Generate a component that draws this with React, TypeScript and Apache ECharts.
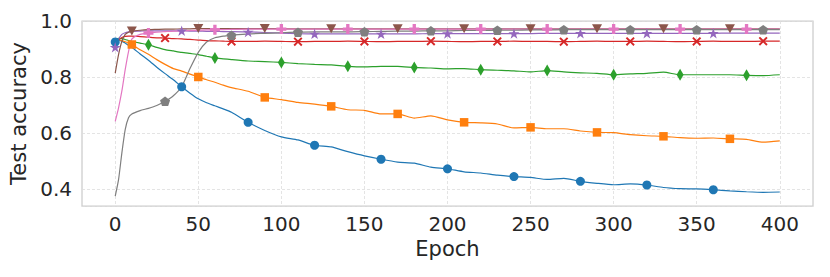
import React, { useEffect, useRef } from "react";
import * as echarts from "echarts";

const EPOCHS = [0, 2, 4, 6, 8, 10, 15, 20, 25, 30, 35, 40, 45, 50, 55, 60, 65, 70,
  80, 90, 100, 110, 120, 130, 140, 150, 160, 170, 180, 190, 200, 210, 220, 230, 240,
  250, 260, 270, 280, 290, 300, 310, 320, 330, 340, 350, 360, 370, 380, 390, 400];

const BLUE = [0.925, 0.932, 0.928, 0.921, 0.913, 0.906, 0.882, 0.860, 0.835, 0.812, 0.790, 0.765, 0.742, 0.722, 0.708, 0.697, 0.686, 0.674,
  0.638, 0.609, 0.586, 0.575, 0.556, 0.550, 0.533, 0.518, 0.506, 0.496, 0.492, 0.478, 0.472, 0.461, 0.457, 0.449, 0.444,
  0.441, 0.434, 0.438, 0.427, 0.420, 0.415, 0.418, 0.414, 0.405, 0.401, 0.400, 0.397, 0.393, 0.390, 0.388, 0.389];

const ORANGE = [0.935, 0.933, 0.930, 0.926, 0.921, 0.916, 0.897, 0.881, 0.862, 0.845, 0.830, 0.821, 0.810, 0.800, 0.790, 0.781, 0.771, 0.762,
  0.749, 0.727, 0.719, 0.709, 0.703, 0.695, 0.683, 0.681, 0.668, 0.668, 0.653, 0.661, 0.647, 0.638, 0.636, 0.632, 0.618,
  0.620, 0.615, 0.615, 0.607, 0.602, 0.601, 0.594, 0.590, 0.588, 0.583, 0.581, 0.582, 0.579, 0.577, 0.567, 0.572];

const GREEN = [0.930, 0.938, 0.937, 0.934, 0.930, 0.927, 0.921, 0.915, 0.906, 0.898, 0.893, 0.888, 0.884, 0.880, 0.874, 0.868, 0.865, 0.862,
  0.857, 0.855, 0.852, 0.848, 0.845, 0.843, 0.838, 0.836, 0.838, 0.838, 0.834, 0.832, 0.829, 0.830, 0.826, 0.824, 0.822,
  0.818, 0.823, 0.818, 0.815, 0.813, 0.808, 0.811, 0.813, 0.817, 0.808, 0.808, 0.808, 0.808, 0.806, 0.805, 0.808];

const RED = [0.918, 0.932, 0.941, 0.945, 0.946, 0.946, 0.944, 0.942, 0.940, 0.939, 0.937, 0.936, 0.934, 0.932, 0.930, 0.929, 0.928, 0.927,
  0.927, 0.928, 0.927, 0.926, 0.927, 0.927, 0.928, 0.927, 0.926, 0.927, 0.927, 0.928, 0.927, 0.926, 0.927, 0.927, 0.928,
  0.927, 0.927, 0.926, 0.927, 0.928, 0.927, 0.927, 0.928, 0.927, 0.926, 0.927, 0.928, 0.927, 0.927, 0.928, 0.928];

const PURPLE = [0.906, 0.935, 0.952, 0.958, 0.961, 0.963, 0.964, 0.965, 0.965, 0.965, 0.965, 0.965, 0.964, 0.964, 0.963, 0.963, 0.962, 0.962,
  0.961, 0.959, 0.957, 0.955, 0.954, 0.954, 0.954, 0.954, 0.954, 0.954, 0.954, 0.955, 0.955, 0.955, 0.955, 0.955, 0.955,
  0.955, 0.956, 0.956, 0.956, 0.956, 0.956, 0.956, 0.956, 0.956, 0.956, 0.956, 0.956, 0.957, 0.957, 0.957, 0.957];

const BROWN = [0.814, 0.880, 0.927, 0.952, 0.960, 0.964, 0.967, 0.969, 0.970, 0.971, 0.971, 0.972, 0.972, 0.973, 0.973, 0.973, 0.973, 0.973,
  0.973, 0.973, 0.972, 0.972, 0.972, 0.972, 0.972, 0.972, 0.972, 0.972, 0.972, 0.972, 0.972, 0.972, 0.972, 0.972, 0.972,
  0.972, 0.972, 0.972, 0.972, 0.972, 0.972, 0.972, 0.972, 0.972, 0.972, 0.972, 0.972, 0.972, 0.972, 0.972, 0.972];

const PINK = [0.641, 0.690, 0.750, 0.826, 0.891, 0.935, 0.952, 0.957, 0.960, 0.962, 0.964, 0.965, 0.966, 0.967, 0.968, 0.969, 0.969, 0.970,
  0.971, 0.971, 0.971, 0.971, 0.971, 0.971, 0.971, 0.971, 0.971, 0.971, 0.971, 0.971, 0.971, 0.971, 0.971, 0.971, 0.971,
  0.971, 0.971, 0.971, 0.971, 0.971, 0.971, 0.971, 0.971, 0.971, 0.971, 0.971, 0.971, 0.971, 0.971, 0.971, 0.971];

const GRAY = [0.374, 0.433, 0.529, 0.612, 0.654, 0.668, 0.680, 0.688, 0.698, 0.713, 0.733, 0.765, 0.830, 0.888, 0.925, 0.940, 0.946, 0.949,
  0.954, 0.956, 0.958, 0.960, 0.961, 0.961, 0.961, 0.962, 0.963, 0.964, 0.964, 0.965, 0.965, 0.966, 0.966, 0.967, 0.967,
  0.968, 0.968, 0.969, 0.969, 0.969, 0.969, 0.969, 0.969, 0.969, 0.969, 0.969, 0.969, 0.969, 0.969, 0.969, 0.969];

const SERIES_VALUES = [BLUE, ORANGE, GREEN, RED, PURPLE, BROWN, PINK, GRAY];
const SERIES_NAMES = ["run 1", "run 2", "run 3", "run 4", "run 5", "run 6", "run 7", "run 8"];
const MARKER_START = [0, 10, 20, 30, 0, 10, 20, 30];
const MARKER_STEP = 40;

const X_TICKS = [0, 50, 100, 150, 200, 250, 300, 350, 400];
const Y_TICKS = [0.4, 0.6, 0.8, 1.0];

const COLORS = ["#1f77b4", "#ff7f0e", "#2ca02c", "#d62728", "#9467bd", "#8c564b", "#e377c2", "#7f7f7f"];

const STAR = "path://M0,-1L0.2245,-0.309L0.951,-0.309L0.363,0.118L0.588,0.809L0,0.382L-0.588,0.809L-0.363,0.118L-0.951,-0.309L-0.2245,-0.309Z";
const PENTAGON = "path://M0,-1L0.951,-0.309L0.588,0.809L-0.588,0.809L-0.951,-0.309Z";
const TRI_DOWN = "path://M0,0L10,0L5,8.66Z";
const XMARK = "path://M0,1.5L1.5,0L5,3.5L8.5,0L10,1.5L6.5,5L10,8.5L8.5,10L5,6.5L1.5,10L0,8.5L3.5,5Z";
const PLUS = "path://M-1,-3L1,-3L1,-1L3,-1L3,1L1,1L1,3L-1,3L-1,1L-3,1L-3,-1L-1,-1Z";

const SYMBOLS: any[] = ["circle", "rect", "diamond", XMARK, STAR, TRI_DOWN, PLUS, PENTAGON];
const SYMBOL_SIZES: any[] = [9, 8.5, [7, 12], 9, [11, 10.5], [10, 9], 10, [10, 9.5]];

const FONT = "DejaVu Sans";
const TEXT = "#262626";

export default function App() {
  const ref = useRef<HTMLDivElement>(null);
  useEffect(() => {
    if (!ref.current) return;
    const chart = echarts.init(ref.current, undefined, { renderer: "svg" });
    const series: any[] = [];
    SERIES_VALUES.forEach((vals, s) => {
      series.push({
        type: "line",
        name: SERIES_NAMES[s],
        data: EPOCHS.map((e, i) => [e, vals[i]]),
        showSymbol: false,
        smooth: 0.2,
        lineStyle: { width: 1.2, color: COLORS[s] },
        itemStyle: { color: COLORS[s] },
        silent: true,
        z: 2,
      });
      const marks: number[][] = [];
      EPOCHS.forEach((e, i) => {
        if (e >= MARKER_START[s] && (e - MARKER_START[s]) % MARKER_STEP === 0 && e < 400) marks.push([e, vals[i]]);
      });
      series.push({
        type: "scatter",
        name: SERIES_NAMES[s],
        data: marks,
        symbol: SYMBOLS[s],
        symbolSize: SYMBOL_SIZES[s],
        itemStyle: { color: COLORS[s], opacity: 1 },
        silent: true,
        z: 3,
      });
    });
    chart.setOption({
      animation: false,
      backgroundColor: "#ffffff",
      grid: { left: 82, right: 17, top: 21, bottom: 71, show: true, borderColor: "#cccccc", borderWidth: 1.25, backgroundColor: "#ffffff" },
      xAxis: {
        type: "value",
        min: -20,
        max: 420,
        splitNumber: 9,
        name: "Epoch",
        nameLocation: "middle",
        nameGap: 29,
        nameTextStyle: { fontSize: 21, color: TEXT, fontFamily: FONT },
        axisLine: { show: false },
        axisTick: { show: false },
        axisLabel: {
          fontSize: 20, color: TEXT, fontFamily: FONT, margin: 8,
          formatter: (v: number) => (X_TICKS.includes(Math.round(v)) && Math.abs(v - Math.round(v)) < 1e-6 ? String(Math.round(v)) : ""),
        },
        splitLine: { show: true, lineStyle: { type: [3, 2], color: "#dddddd", width: 0.8 } },
      },
      yAxis: {
        type: "value",
        min: 0.339,
        max: 1.0,
        splitNumber: 3,
        name: "Test accuracy",
        nameLocation: "middle",
        nameGap: 49,
        nameRotate: 90,
        nameTextStyle: { fontSize: 21, color: TEXT, fontFamily: FONT },
        axisLine: { show: false },
        axisTick: { show: false },
        axisLabel: {
          fontSize: 20, color: TEXT, fontFamily: FONT, margin: 10,
          formatter: (v: number) => {
            const t = Y_TICKS.find((y) => Math.abs(y - v) < 1e-6);
            return t !== undefined ? t.toFixed(1) : "";
          },
        },
        splitLine: { show: true, lineStyle: { type: [3, 2], color: "#dddddd", width: 0.8 } },
      },
      series,
    });
    return () => chart.dispose();
  }, []);
  return <div ref={ref} style={{ position: "fixed", left: 0, top: 0, width: 830, height: 277 }} />;
}
